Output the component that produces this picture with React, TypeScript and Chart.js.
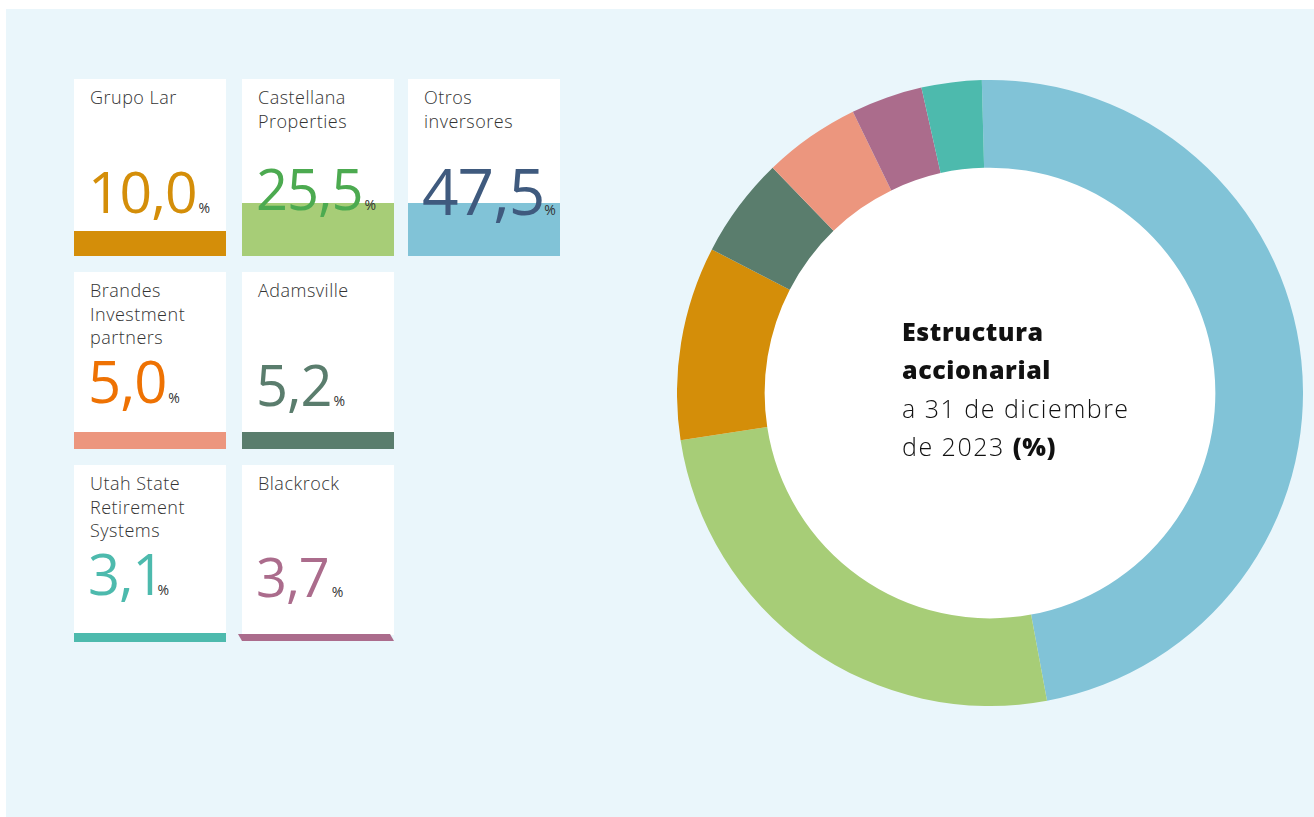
import React, { useEffect, useRef } from "react";
import { Chart, registerables } from "chart.js";

Chart.register(...registerables);

// ---- data ----
const sliceLabels = [
  "Otros inversores",
  "Castellana Properties",
  "Grupo Lar",
  "Adamsville",
  "Brandes Investment partners",
  "Blackrock",
  "Utah State Retirement Systems",
];
const sliceValues = [47.5, 25.5, 10.0, 5.2, 5.0, 3.7, 3.1];
const sliceColors = ["#81C3D7", "#A7CD77", "#D48E09", "#5A7D6D", "#EC967E", "#AB6C8C", "#4DBAAD"];

// card content (order shown on the left)
const cardNames = [
  "Grupo Lar",
  "Castellana Properties",
  "Otros inversores",
  "Brandes Investment partners",
  "Adamsville",
  "Utah State Retirement Systems",
  "Blackrock",
];
const cardLabelLines = [
  ["Grupo Lar"],
  ["Castellana", "Properties"],
  ["Otros", "inversores"],
  ["Brandes", "Investment", "partners"],
  ["Adamsville"],
  ["Utah State", "Retirement", "Systems"],
  ["Blackrock"],
];
const cardNumberColors = ["#D48E09", "#4CAA50", "#3F5A7E", "#EE7203", "#5A7D6D", "#4DBAAD", "#AB6C8C"];

const centerTitle = ["Estructura", "accionarial"];
const centerSub = "a 31 de diciembre";
const centerSub2 = "de 2023 ";
const centerUnit = "(%)";

// ---- layout (styles only) ----
const cardLayout = [
  { left: 74, top: 79, fs: 57, base: 135, bar: 25, pctGap: 2 },
  { left: 242, top: 79, fs: 56, base: 131, bar: 53, pctGap: 2 },
  { left: 408, top: 79, fs: 64, base: 137, bar: 53, pctGap: 0 },
  { left: 74, top: 272, fs: 58, base: 132, bar: 17, pctGap: 2 },
  { left: 242, top: 272, fs: 56, base: 134, bar: 17, pctGap: 2 },
  { left: 74, top: 465, fs: 56, base: 130, bar: 9, pctGap: -6 },
  { left: 242, top: 465, fs: 54, base: 132, bar: 7, pctGap: 3, slanted: true },
];
const CARD_W = 152;
const CARD_H = 177;
const FONT = "'Open Sans', 'Noto Sans', sans-serif";

function fmt(v: number) {
  return v.toFixed(1).replace(".", ",");
}

export default function App() {
  const canvasRef = useRef<HTMLCanvasElement | null>(null);

  useEffect(() => {
    document.body.style.margin = "0";
    const ctx = canvasRef.current!.getContext("2d")!;
    const chart = new Chart(ctx, {
      type: "doughnut",
      data: {
        labels: sliceLabels,
        datasets: [
          {
            data: sliceValues,
            backgroundColor: sliceColors,
            borderWidth: 0,
            hoverOffset: 0,
          },
        ],
      },
      options: {
        responsive: false,
        animation: false,
        rotation: -1.5,
        cutout: "72%",
        layout: { padding: 0 },
        plugins: {
          legend: { display: false },
          tooltip: { enabled: false },
        },
      },
    });
    return () => chart.destroy();
  }, []);

  return (
    <div
      style={{
        position: "absolute",
        left: 0,
        top: 0,
        width: 1314,
        height: 817,
        overflow: "hidden",
        background: "#FFFFFF",
        fontFamily: FONT,
      }}
    >
      <div
        style={{
          position: "absolute",
          left: 6,
          top: 9,
          width: 1308,
          height: 808,
          background: "#EAF6FB",
        }}
      />
      {cardNames.map((name, i) => {
        const L = cardLayout[i];
        const value = sliceValues[sliceLabels.indexOf(name)];
        const barColor = sliceColors[sliceLabels.indexOf(name)];
        return (
          <div
            key={name}
            style={{
              position: "absolute",
              left: L.left,
              top: L.top,
              width: CARD_W,
              height: CARD_H,
            }}
          >
            <div
              style={{
                position: "absolute",
                left: 0,
                top: 0,
                width: CARD_W,
                height: L.slanted ? CARD_H - L.bar : CARD_H,
                background: "#FFFFFF",
              }}
            />
            {L.slanted ? (
              <div
                style={{
                  position: "absolute",
                  left: -4,
                  top: CARD_H - L.bar - 1,
                  width: CARD_W + 4,
                  height: L.bar,
                  background: barColor,
                  clipPath: "polygon(0 0, 152px 0, 156px 100%, 4px 100%)",
                }}
              />
            ) : (
              <div
                style={{
                  position: "absolute",
                  left: 0,
                  top: CARD_H - L.bar,
                  width: CARD_W,
                  height: L.bar,
                  background: barColor,
                }}
              />
            )}
            <div
              style={{
                position: "absolute",
                left: 16,
                top: 7,
                fontSize: 18,
                lineHeight: "23.5px",
                fontWeight: 300,
                letterSpacing: 0.5,
                color: "#333333",
                whiteSpace: "nowrap",
              }}
            >
              {cardLabelLines[i].map((ln) => (
                <div key={ln}>{ln}</div>
              ))}
            </div>
            <div
              style={{
                position: "absolute",
                left: 14,
                top: L.base - 0.888 * L.fs,
                fontSize: L.fs,
                lineHeight: 1,
                fontWeight: 400,
                color: cardNumberColors[i],
                whiteSpace: "nowrap",
                letterSpacing: -1,
              }}
            >
              {fmt(value)}
              <span
                style={{
                  fontSize: 14,
                  color: "#333333",
                  marginLeft: L.pctGap,
                  letterSpacing: 0,
                  fontWeight: 400,
                }}
              >
                %
              </span>
            </div>
          </div>
        );
      })}
      <div
        style={{
          position: "absolute",
          left: 990 - 227,
          top: 393 - 227,
          width: 454,
          height: 454,
          borderRadius: "50%",
          background: "#FFFFFF",
        }}
      />
      <canvas
        ref={canvasRef}
        width={626}
        height={626}
        style={{ position: "absolute", left: 677, top: 80, width: 626, height: 626 }}
      />
      <div
        style={{
          position: "absolute",
          left: 902,
          top: 312,
          fontSize: 25,
          lineHeight: "38.3px",
          color: "#111111",
          whiteSpace: "nowrap",
        }}
      >
        {centerTitle.map((t) => (
          <div key={t} style={{ fontWeight: 800, letterSpacing: 0.6 }}>
            {t}
          </div>
        ))}
        <div style={{ fontWeight: 300, letterSpacing: 1.5 }}>{centerSub}</div>
        <div style={{ fontWeight: 300, letterSpacing: 1.5 }}>
          {centerSub2}
          <span style={{ fontWeight: 800, letterSpacing: 0.6 }}>{centerUnit}</span>
        </div>
      </div>
    </div>
  );
}
